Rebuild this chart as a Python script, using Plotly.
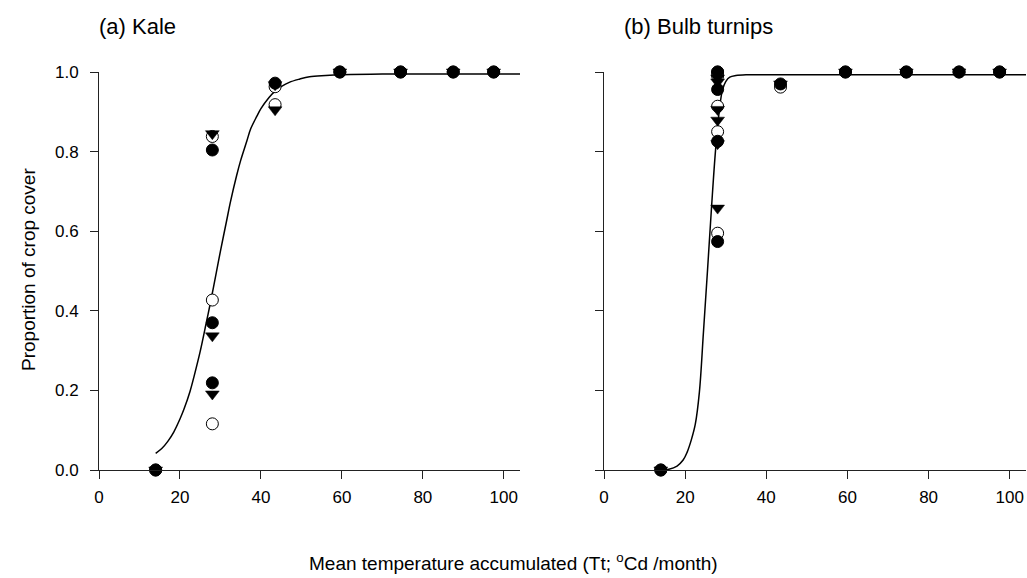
import plotly.graph_objects as go

# ---------------- data ----------------
# (a) Kale
kale_filled_x = [14, 28, 28, 28, 43.5, 59.5, 74.5, 87.5, 97.5]
kale_filled_y = [0.0, 0.804, 0.370, 0.219, 0.972, 1.0, 1.0, 1.0, 1.0]
kale_open_x = [14, 28, 28, 28, 43.5, 43.5, 59.5, 74.5, 87.5, 97.5]
kale_open_y = [0.0, 0.838, 0.427, 0.116, 0.963, 0.918, 1.0, 1.0, 1.0, 1.0]
kale_tri_x = [14, 28, 28, 28, 43.5, 43.5, 59.5, 74.5, 87.5, 97.5]
kale_tri_y = [0.0, 0.845, 0.337, 0.191, 0.905, 0.968, 1.0, 1.0, 1.0, 1.0]
kale_curve_x = [14, 15.5, 17, 18.5, 20, 21, 22.5, 23.5, 25, 26.5, 27.5, 29, 30, 31.5, 32.5, 34,
                35, 36.5, 37.5, 39, 40, 42, 43.5, 45, 47, 49.5, 52, 56, 60, 70, 80, 104]
kale_curve_y = [0.042, 0.054, 0.072, 0.096, 0.128, 0.153, 0.198, 0.236, 0.298, 0.37, 0.419, 0.497,
                0.55, 0.625, 0.675, 0.74, 0.778, 0.826, 0.858, 0.889, 0.908, 0.936, 0.952, 0.963,
                0.974, 0.982, 0.988, 0.991, 0.993, 0.995, 0.995, 0.995]

# (b) Bulb turnips
turn_filled_x = [14, 28, 28, 28, 28, 43.5, 59.5, 74.5, 87.5, 97.5]
turn_filled_y = [0.0, 1.0, 0.956, 0.826, 0.574, 0.970, 1.0, 1.0, 1.0, 1.0]
turn_open_x = [14, 28, 28, 28, 28, 28, 43.5, 59.5, 74.5, 87.5, 97.5]
turn_open_y = [0.0, 1.0, 0.99, 0.914, 0.85, 0.595, 0.962, 1.0, 1.0, 1.0, 1.0]
turn_tri_x = [14, 28, 28, 28, 28, 28, 28, 43.5, 59.5, 74.5, 87.5, 97.5]
turn_tri_y = [0.0, 0.985, 0.975, 0.906, 0.879, 0.82, 0.658, 0.970, 1.0, 1.0, 1.0, 1.0]
turn_curve_x = [14, 16, 18, 19.5, 20.5, 21.5, 22.5, 23.5, 24.5, 25.5, 26.5, 27.5, 28.5, 29.2,
                30, 31, 32.5, 35, 40, 104]
turn_curve_y = [0.0, 0.002, 0.010, 0.025, 0.045, 0.075, 0.115, 0.195, 0.345, 0.50, 0.66, 0.805,
                0.91, 0.955, 0.976, 0.987, 0.991, 0.993, 0.993, 0.993]

x_ticks = [0, 20, 40, 60, 80, 100]
y_ticks = [0.0, 0.2, 0.4, 0.6, 0.8, 1.0]
panel_titles = ["(a) Kale", "(b) Bulb turnips"]
x_title = "Mean temperature accumulated (Tt; <sup>o</sup>Cd /month)"
y_title = "Proportion of crop cover"

# ---------------- figure ----------------
FONT = "Liberation Sans, Arial, sans-serif"
fig = go.Figure()

def add_panel(xa, ya, cx, cy, ox, oy, fx, fy, tx, ty):
    fig.add_trace(go.Scatter(x=cx, y=cy, mode="lines", xaxis=xa, yaxis=ya,
                             line=dict(color="black", width=1.5, shape="spline", smoothing=1.0),
                             showlegend=False, hoverinfo="skip"))
    fig.add_trace(go.Scatter(x=ox, y=oy, mode="markers", xaxis=xa, yaxis=ya,
                             marker=dict(symbol="circle", size=12, color="white",
                                         line=dict(color="black", width=1)),
                             showlegend=False, cliponaxis=False))
    fig.add_trace(go.Scatter(x=fx, y=fy, mode="markers", xaxis=xa, yaxis=ya,
                             marker=dict(symbol="circle", size=12, color="black",
                                         line=dict(color="black", width=1)),
                             showlegend=False, cliponaxis=False))
    fig.add_trace(go.Scatter(x=tx, y=ty, mode="markers", xaxis=xa, yaxis=ya,
                             marker=dict(symbol="triangle-down", size=12, color="black",
                                         line=dict(color="black", width=0.5)),
                             showlegend=False, cliponaxis=False))

add_panel("x", "y", kale_curve_x, kale_curve_y, kale_open_x, kale_open_y,
          kale_filled_x, kale_filled_y, kale_tri_x, kale_tri_y)
add_panel("x2", "y2", turn_curve_x, turn_curve_y, turn_open_x, turn_open_y,
          turn_filled_x, turn_filled_y, turn_tri_x, turn_tri_y)

W, H = 1027, 578
ml, mr, mt, mb = 99, 1, 72, 108
pw = W - ml - mr
d1 = [0, (520 - ml) / pw]
d2 = [(604 - ml) / pw, 1]

xaxis_common = dict(range=[0, 104], tickvals=x_ticks, ticks="outside", ticklen=8, tickwidth=1,
                    tickcolor="#222", showline=True, linecolor="#222", linewidth=1,
                    showgrid=False, zeroline=False, ticklabelstandoff=4,
                    tickfont=dict(family=FONT, size=17, color="black"))
yaxis_common = dict(range=[0, 1.0], tickvals=y_ticks, ticks="outside", ticklen=8, tickwidth=1,
                    tickcolor="#222", showline=True, linecolor="#222", linewidth=1,
                    showgrid=False, zeroline=False, tickformat=".1f", ticklabelstandoff=8,
                    tickfont=dict(family=FONT, size=17, color="black"))

fig.update_layout(
    width=W, height=H,
    margin=dict(l=ml, r=mr, t=mt, b=mb),
    paper_bgcolor="white", plot_bgcolor="white",
    xaxis=dict(domain=d1, anchor="y", **xaxis_common),
    xaxis2=dict(domain=d2, anchor="y2", **xaxis_common),
    yaxis=dict(domain=[0, 1], anchor="x", **yaxis_common),
    yaxis2=dict(domain=[0, 1], anchor="x2", showticklabels=False, **yaxis_common),
    font=dict(family=FONT, color="black"),
)

def px_x(p):
    return (p - ml) / pw

def px_y(p):
    return (H - mb - p) / (H - mt - mb)

fig.add_annotation(text=panel_titles[0], xref="paper", yref="paper", x=px_x(97), y=px_y(26),
                   xanchor="left", yanchor="middle", showarrow=False, font=dict(size=22, family=FONT))
fig.add_annotation(text=panel_titles[1], xref="paper", yref="paper", x=px_x(622), y=px_y(26),
                   xanchor="left", yanchor="middle", showarrow=False, font=dict(size=22, family=FONT))
fig.add_annotation(text=x_title, xref="paper", yref="paper", x=px_x(513), y=px_y(562),
                   xanchor="center", yanchor="middle", showarrow=False, font=dict(size=19, family=FONT))
fig.add_annotation(text=y_title, xref="paper", yref="paper", x=px_x(28), y=px_y(270),
                   xanchor="center", yanchor="middle", textangle=-90, showarrow=False,
                   font=dict(size=19, family=FONT))

fig.write_html("out.html")
